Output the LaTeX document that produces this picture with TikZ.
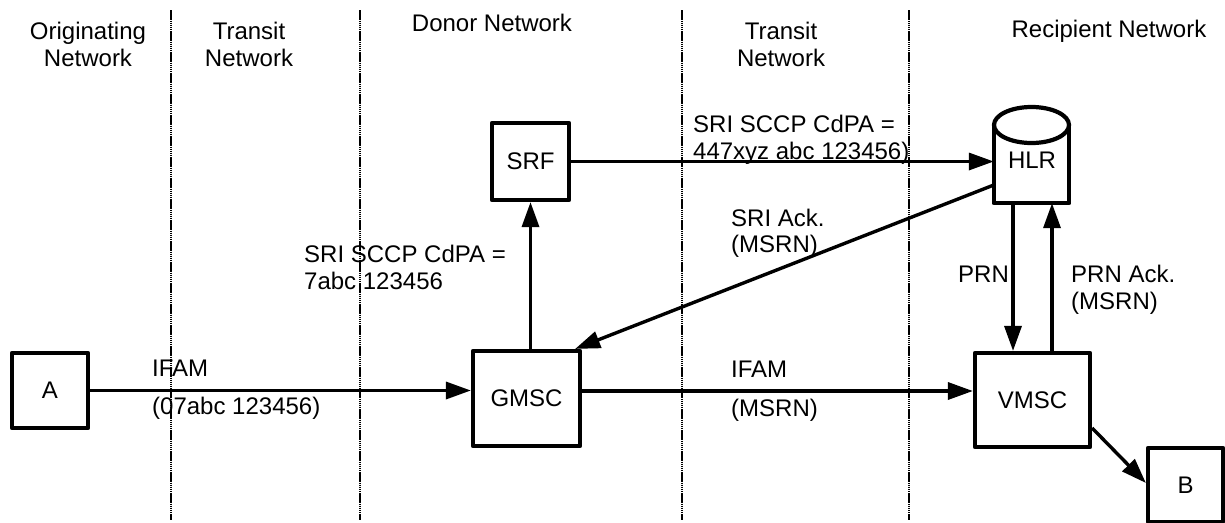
\documentclass[tikz,border=0pt]{standalone}
\usepackage{fontspec}
\setmainfont{Liberation Sans}
\usetikzlibrary{arrows.meta,calc}
\begin{document}
\begin{tikzpicture}[x=1pt,y=-1pt,
  every node/.style={font=\fontsize{24pt}{28pt}\selectfont, inner sep=0pt},
  box/.style={draw, line width=4.2pt, rectangle, line join=round},
  cyl/.style={line width=4.2pt, line join=round},
  lbl/.style={anchor=base west},
  hd/.style={anchor=base},
  arr/.style={line width=3.4pt, -{Triangle[length=25pt,width=17pt]}},
  sepline/.style={line width=1.8pt, dash pattern=on 1.5pt off 0.6pt}]
\useasboundingbox (0,0) rectangle (1225,522);
% separators
\foreach \i/\x in {1/171,2/360,3/682,4/909}{
  \coordinate (s\i t) at (\x,10);
  \coordinate (s\i b) at (\x,520);
  \draw[sepline] (s\i t) -- (s\i b);
}
% headings
\node[hd] (h1a) at (88,39) {Originating};
\node[hd] (h1b) at (88,66) {Network};
\node[hd] (h2a) at (249,39) {Transit};
\node[hd] (h2b) at (249,66) {Network};
\node[hd] (h3) at (492,31) {Donor Network};
\node[hd] (h4a) at (781,39) {Transit};
\node[hd] (h4b) at (781,66) {Network};
\node[hd] (h5) at (1109,37) {Recipient Network};
% boxes
\node[box, minimum width=76pt, minimum height=75pt] (A) at (50,390.5) {A};
\node[box, minimum width=107pt, minimum height=95pt] (GMSC) at (526.5,398.5) {GMSC};
\node[box, minimum width=77pt, minimum height=77pt] (SRF) at (530.5,161.5) {SRF};
\node[box, minimum width=115pt, minimum height=94pt] (VMSC) at (1032.5,400) {VMSC};
\node[box, minimum width=75pt, minimum height=74pt] (B) at (1185.5,485) {B};
% HLR cylinder
\node[minimum width=75pt, minimum height=96pt] (HLR) at (1031.5,155) {};
\coordinate (ecy) at (0,125);
\draw[cyl] (HLR.west |- ecy) -- (HLR.south west) -- (HLR.south east) -- (HLR.east |- ecy);
\draw[cyl] (HLR.north |- ecy) ellipse [x radius=37.5pt, y radius=18pt];
\node (HLRt) at (1032,160) {HLR};
% labels
\node[lbl] (l1a) at (693,132) {SRI SCCP CdPA =};
\node[lbl] (l1b) at (693,159) {447xyz abc 123456)};
\node[lbl] (l2a) at (731,226) {SRI Ack.};
\node[lbl] (l2b) at (731,252) {(MSRN)};
\node[lbl] (l3a) at (304,262) {SRI SCCP CdPA =};
\node[lbl] (l3b) at (304,289) {7abc 123456};
\node[lbl] (l4) at (958,282) {PRN};
\node[lbl] (l5a) at (1071,282) {PRN Ack.};
\node[lbl] (l5b) at (1071,309) {(MSRN)};
\node[lbl] (l6a) at (152,376) {IFAM};
\node[lbl] (l6b) at (152,414) {(07abc 123456)};
\node[lbl] (l7a) at (731,377) {IFAM};
\node[lbl] (l7b) at (731,416) {(MSRN)};
% connectors
\draw[arr] (A.east) -- (A.east -| GMSC.west);
\draw[arr] (GMSC.north -| SRF.south) -- (SRF.south);
\draw[arr] (SRF.east) -- (SRF.east -| HLR.west);
\draw[arr] ($(HLR.west)+(0,30)$) -- ($(GMSC.north east)+(-7,0)$);
\coordinate (yM) at (0,391);
\draw[arr] (GMSC.east |- yM) -- (VMSC.west |- yM);
\coordinate (xP) at (1013,0);
\coordinate (xQ) at (1052,0);
\draw[arr] (HLR.south -| xP) -- (VMSC.north -| xP);
\draw[arr] (VMSC.north -| xQ) -- (HLR.south -| xQ);
\draw[arr] ($(VMSC.east)+(0,28)$) -- ($(B.west)+(0,-2)$);
\end{tikzpicture}
\end{document}
